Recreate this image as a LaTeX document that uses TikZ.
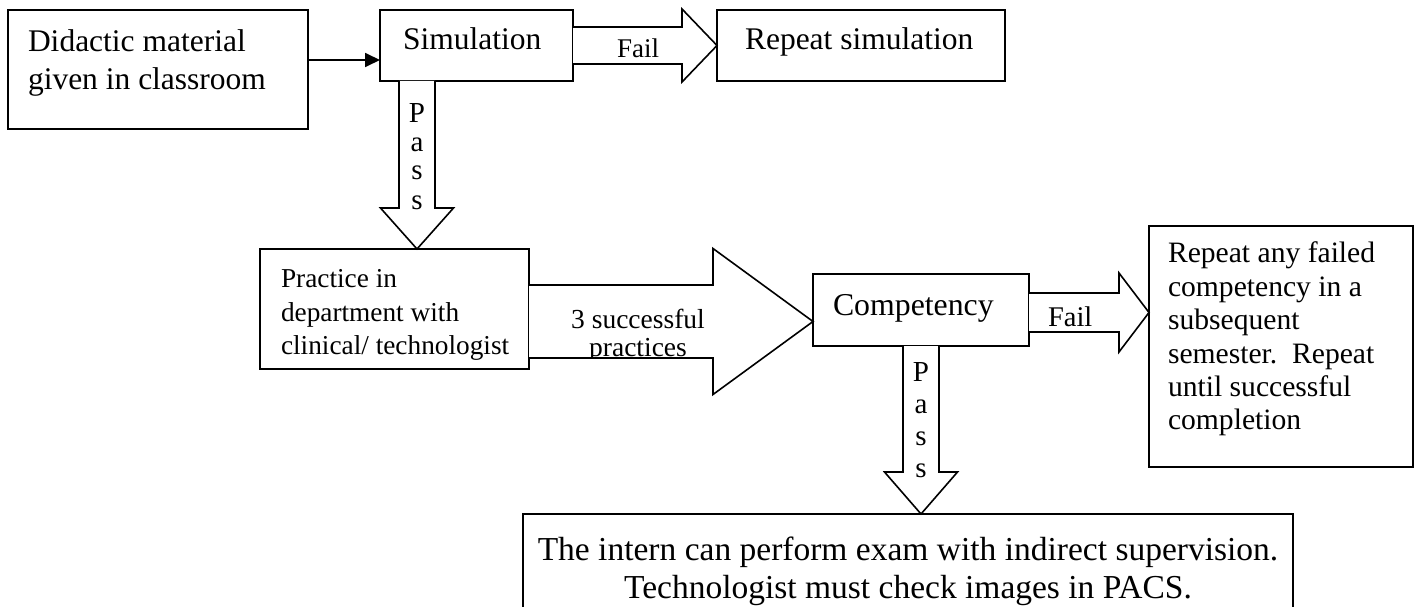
\documentclass[tikz,border=0pt]{standalone}
\usepackage{fontspec}
\setmainfont{Liberation Serif}
\usetikzlibrary{calc,arrows.meta}
\newcommand{\myfs}[2]{\fontsize{#1}{#2}\selectfont}
\begin{document}
\begin{tikzpicture}[x=1pt,y=-1pt,
  box/.style={draw, line width=1.8pt, inner sep=0pt, outer sep=0pt, rectangle},
  blk/.style={draw, line width=1.6pt, fill=white, line join=miter},
  txt/.style={inner sep=0pt, outer sep=0pt},
  thinarrow/.style={line width=1.8pt, -{Triangle[length=15pt,width=14pt]}}
]
\useasboundingbox (0,0) rectangle (1417,607);
\clip (0,0) rectangle (1417,607);

% boxes
\node[box, minimum width=300, minimum height=119] (did)  at (158,69.5) {};
\node[box, minimum width=193, minimum height=71]  (sim)  at (476.5,45.5) {};
\node[box, minimum width=288, minimum height=71]  (rsim) at (861,45.5) {};
\node[box, minimum width=269, minimum height=120] (prac) at (394.5,309) {};
\node[box, minimum width=216, minimum height=72]  (comp) at (921,310) {};
\node[box, minimum width=264, minimum height=241] (rany) at (1281,346.5) {};
\node[box, minimum width=770, minimum height=110] (bot)  at (908,569) {};

% texts in boxes
\node[txt, anchor=north west, align=left, font=\myfs{31.5}{38}] (didT) at (28,25.4)
  {\strut Didactic material\\\strut given in classroom};
\node[txt, anchor=base west, font=\myfs{31.5}{37}] (simT) at (403,50) {Simulation};
\node[txt, anchor=base west, font=\myfs{31.5}{37}] (rsimT) at (745,50) {Repeat simulation};
\node[txt, anchor=north west, align=left, font=\myfs{27.3}{33.5}] (pracT) at (281,264.5)
  {\strut Practice in\\\strut department with\\\strut clinical/ technologist};
\node[txt, anchor=base west, font=\myfs{31.8}{37}] (compT) at (833,315) {Competency};
\node[txt, anchor=north west, align=left, font=\myfs{29.6}{33.4}] (ranyT) at (1168,239.6)
  {\strut Repeat any failed\\\strut competency in a\\\strut subsequent\\\strut semester.\ \ Repeat\\\strut until successful\\\strut completion};
\node[txt, anchor=north, align=center, font=\myfs{33.5}{38}] (botT) at (908,533.4)
  {\strut The intern can perform exam with indirect supervision.\\\strut Technologist must check images in PACS.};

% thin arrow
\coordinate (a0) at ($(did.north east)+(0,50)$);
\draw[thinarrow] (a0) -- (a0 -| sim.west);

% Fail arrow (top)
\draw[blk] ($(sim.east)+(0,-18.5)$) -- ($(rsim.west)+(-35,-18.5)$) -- ($(rsim.west)+(-35,-36.5)$)
  -- (rsim.west) -- ($(rsim.west)+(-35,36.5)$) -- ($(rsim.west)+(-35,18.5)$) -- ($(sim.east)+(0,18.5)$);
\node[txt, anchor=base west, font=\myfs{27}{30}] (fail1) at (617,58) {Fail};

% Pass arrow (simulation -> practice)
\coordinate (p1s) at ($(sim.south west)+(37,0)$);
\coordinate (p1e) at (p1s |- prac.north);
\draw[blk] ($(p1s)+(-18,0)$) -- ($(p1e)+(-18,-41)$) -- ($(p1e)+(-36.5,-41)$) -- (p1e)
  -- ($(p1e)+(36.5,-41)$) -- ($(p1e)+(18,-41)$) -- ($(p1s)+(18,0)$);
\node[txt, anchor=north, align=center, font=\myfs{29}{29}] (pass1) at (417,101.7)
  {\strut P\\\strut a\\\strut s\\\strut s};

% big arrow (practice -> competency)
\coordinate (b1s) at ($(prac.east)+(0,12.5)$);
\coordinate (b1e) at (b1s -| comp.west);
\draw[blk] ($(b1s)+(0,-36.5)$) -- ($(b1e)+(-100,-36.5)$) -- ($(b1e)+(-100,-73)$) -- (b1e)
  -- ($(b1e)+(-100,73)$) -- ($(b1e)+(-100,36.5)$) -- ($(b1s)+(0,36.5)$);
\begin{scope}
  \clip ($(b1s)+(0,-35.5)$) rectangle ($(b1e)+(-100,35.5)$);
  \node[txt, anchor=north, align=center, font=\myfs{27.5}{28}] (succT) at (638,308.4)
    {\strut 3 successful\\\strut practices};
\end{scope}

% Fail arrow (competency -> repeat any)
\coordinate (f2s) at ($(comp.east)+(0,2.5)$);
\coordinate (f2e) at (f2s -| rany.west);
\draw[blk] ($(f2s)+(0,-19.5)$) -- ($(f2e)+(-30,-19.5)$) -- ($(f2e)+(-30,-39.5)$) -- (f2e)
  -- ($(f2e)+(-30,39.5)$) -- ($(f2e)+(-30,19.5)$) -- ($(f2s)+(0,19.5)$);
\node[txt, anchor=base west, font=\myfs{28.5}{32}] (fail2) at (1048,326) {Fail};

% Pass arrow (competency -> bottom)
\coordinate (p2s) at (comp.south);
\coordinate (p2e) at (p2s |- bot.north);
\draw[blk] ($(p2s)+(-18,0)$) -- ($(p2e)+(-18,-42)$) -- ($(p2e)+(-36.5,-42)$) -- (p2e)
  -- ($(p2e)+(36.5,-42)$) -- ($(p2e)+(18,-42)$) -- ($(p2s)+(18,0)$);
\node[txt, anchor=north, align=center, font=\myfs{29}{31.7}] (pass2) at (921,359.8)
  {\strut P\\\strut a\\\strut s\\\strut s};
\end{tikzpicture}
\end{document}
